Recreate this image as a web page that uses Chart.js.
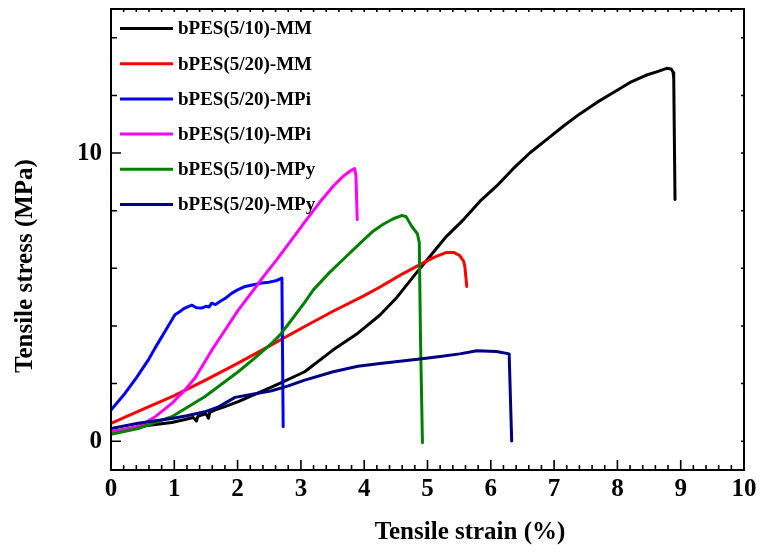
<!DOCTYPE html>
<html>
<head>
<meta charset="utf-8">
<script src="https://cdn.jsdelivr.net/npm/chart.js@4.4.1/dist/chart.umd.min.js"></script>
<style>
html,body{margin:0;padding:0;background:#fff;}
#wrap{width:761px;height:557px;}
</style>
</head>
<body>
<div id="wrap"><canvas id="c" width="761" height="557"></canvas></div>
<script>
// ---- data (strain %, stress MPa) ----
const seriesLabels = ['bPES(5/10)-MM','bPES(5/20)-MM','bPES(5/20)-MPi','bPES(5/10)-MPi','bPES(5/10)-MPy','bPES(5/20)-MPy'];
const seriesColors = ['#000000','#ff0000','#0000ff','#ff00ff','#008000','#000080'];

const mm510Strain = [0,0.2,0.43,0.7,0.96,1.17,1.3,1.35,1.37,1.42,1.5,1.54,1.56,1.64,1.8,2.01,2.3,2.64,3.06,3.51,3.9,4.25,4.5,4.78,5.04,5.3,5.57,5.83,6.09,6.35,6.62,6.9,7.15,7.4,7.67,7.95,8.2,8.45,8.62,8.78,8.85,8.88,8.89,8.91];
const mm510Stress = [0.33,0.4,0.5,0.58,0.65,0.75,0.82,0.7,0.85,0.9,0.95,0.8,1.0,1.08,1.2,1.37,1.65,1.98,2.41,3.17,3.75,4.38,4.95,5.72,6.42,7.11,7.69,8.33,8.85,9.45,10.01,10.5,10.94,11.35,11.75,12.12,12.45,12.7,12.82,12.94,12.92,12.8,12.6,8.39];

const mm520Strain = [0,0.5,1.0,1.5,2.0,2.5,3.06,3.5,4.0,4.25,4.6,4.88,5.1,5.3,5.42,5.51,5.57,5.59,5.62];
const mm520Stress = [0.62,1.1,1.58,2.13,2.7,3.3,3.98,4.5,5.05,5.35,5.8,6.13,6.38,6.55,6.55,6.44,6.25,6.07,5.37];

const mpi520Strain = [0,0.2,0.4,0.59,0.695,0.85,1.01,1.09,1.15,1.22,1.28,1.35,1.43,1.5,1.55,1.59,1.65,1.72,1.8,1.91,2.0,2.12,2.25,2.38,2.5,2.62,2.7,2.71,2.72];
const mpi520Stress = [1.08,1.6,2.2,2.82,3.23,3.8,4.39,4.5,4.6,4.67,4.72,4.63,4.62,4.68,4.66,4.79,4.74,4.85,4.95,5.14,5.25,5.37,5.43,5.49,5.52,5.58,5.66,3.0,0.5];

const mpi510Strain = [0,0.2,0.43,0.7,0.96,1.17,1.33,1.59,1.8,2.01,2.27,2.41,2.62,2.72,3.09,3.3,3.51,3.67,3.78,3.85,3.87,3.89];
const mpi510Stress = [0.33,0.4,0.5,0.85,1.31,1.78,2.2,3.15,3.85,4.55,5.3,5.72,6.3,6.6,7.69,8.3,8.85,9.2,9.38,9.46,9.2,7.69];

const mpy510Strain = [0,0.43,0.96,1.48,2.01,2.27,2.54,2.67,2.8,3.06,3.2,3.45,3.72,3.95,4.14,4.3,4.46,4.59,4.66,4.75,4.84,4.87,4.89,4.92];
const mpy510Stress = [0.24,0.44,0.85,1.54,2.41,2.88,3.4,3.69,4.06,4.82,5.26,5.85,6.42,6.9,7.29,7.53,7.72,7.83,7.8,7.46,7.2,6.9,3.5,-0.05];

const mpy520Strain = [0,0.43,0.96,1.2,1.48,1.7,1.96,2.17,2.54,2.8,3.06,3.51,3.9,4.25,4.88,5.2,5.51,5.78,6.09,6.29,6.31,6.33];
const mpy520Stress = [0.44,0.62,0.79,0.88,1.02,1.19,1.52,1.6,1.75,1.92,2.12,2.41,2.6,2.7,2.85,2.94,3.03,3.14,3.11,3.03,1.5,0.01];

const strainSets = [mm510Strain, mm520Strain, mpi520Strain, mpi510Strain, mpy510Strain, mpy520Strain];
const stressSets = [mm510Stress, mm520Stress, mpi520Stress, mpi510Stress, mpy510Stress, mpy520Stress];

// ticks
const xMajorTicks = [0,1,2,3,4,5,6,7,8,9,10];
const xMinorStep = 0.2;
const yMajorTicks = [0,10];
const yMinorTicks = [2,4,6,8,12,14];

const xTitle = 'Tensile strain (%)';
const yTitle = 'Tensile stress (MPa)';

const FONT = 'Liberation Serif, Times New Roman, serif';

const datasets = seriesLabels.map((lab, i) => ({
  label: lab,
  data: strainSets[i].map((x, k) => ({x: x, y: stressSets[i][k]})),
  borderColor: seriesColors[i],
  backgroundColor: seriesColors[i],
  borderWidth: 3,
  pointRadius: 0,
  showLine: true,
  tension: 0,
  borderJoinStyle: 'round',
  borderCapStyle: 'round',
  order: seriesLabels.length - i
}));

const framePlugin = {
  id: 'framePlugin',
  afterDraw(chart) {
    const {ctx, chartArea: a, scales} = chart;
    const xs = scales.x, ys = scales.y;
    ctx.save();
    ctx.strokeStyle = '#000';
    ctx.lineWidth = 2;
    ctx.strokeRect(a.left, a.top, a.right - a.left, a.bottom - a.top);
    ctx.lineWidth = 1.6;
    ctx.beginPath();
    const n = Math.round((xs.max - xs.min) / xMinorStep);
    for (let k = 0; k <= n; k++) {
      const v = xs.min + k * xMinorStep;
      const px = xs.getPixelForValue(v);
      const major = xMajorTicks.some(m => Math.abs(m - v) < 1e-6);
      const len = major ? 10 : 5;
      ctx.moveTo(px, a.bottom); ctx.lineTo(px, a.bottom - len);
      ctx.moveTo(px, a.top); ctx.lineTo(px, a.top + 3);
    }
    yMajorTicks.concat(yMinorTicks).forEach(v => {
      const py = ys.getPixelForValue(v);
      const major = yMajorTicks.includes(v);
      const len = major ? 10 : 6;
      ctx.moveTo(a.left, py); ctx.lineTo(a.left + len, py);
      ctx.moveTo(a.right, py); ctx.lineTo(a.right - 3, py);
    });
    ctx.stroke();

    ctx.fillStyle = '#000';
    ctx.font = 'bold 25px ' + FONT;
    ctx.textAlign = 'center';
    ctx.textBaseline = 'middle';
    ctx.fillText(xTitle, 470, 533);
    ctx.save();
    ctx.translate(26, 266);
    ctx.rotate(-Math.PI / 2);
    ctx.fillText(yTitle, 0, 0);
    ctx.restore();

    ctx.font = 'bold 19px ' + FONT;
    ctx.textAlign = 'left';
    chart.data.datasets.forEach((ds, i) => {
      const y = 28.5 + i * 35.2;
      ctx.strokeStyle = ds.borderColor;
      ctx.lineWidth = 3;
      ctx.beginPath();
      ctx.moveTo(120, y); ctx.lineTo(173, y);
      ctx.stroke();
      ctx.fillStyle = '#000';
      ctx.fillText(ds.label, 178, y + 1);
    });
    ctx.restore();
  }
};

new Chart(document.getElementById('c'), {
  type: 'scatter',
  data: {datasets},
  options: {
    responsive: false,
    animation: false,
    devicePixelRatio: 1,
    layout: {padding: {top: 9, right: 17, left: 0, bottom: 0}},
    plugins: {legend: {display: false}, tooltip: {enabled: false}},
    scales: {
      x: {
        type: 'linear', min: 0, max: 10,
        grid: {display: false, drawTicks: false},
        border: {display: false},
        afterBuildTicks: s => { s.ticks = xMajorTicks.map(v => ({value: v})); },
        afterFit: s => { s.height = 87; s.paddingLeft = 0; s.paddingRight = 0; },
        ticks: {
          padding: 5, color: '#000', maxRotation: 0, autoSkip: false,
          font: {family: FONT, size: 25, weight: 'bold'},
          callback: v => String(v)
        }
      },
      y: {
        type: 'linear', min: -1, max: 15,
        grid: {display: false, drawTicks: false},
        border: {display: false},
        afterBuildTicks: s => { s.ticks = yMajorTicks.map(v => ({value: v})); },
        afterFit: s => { s.width = 111; s.paddingTop = 0; s.paddingBottom = 0; },
        ticks: {
          padding: 9, color: '#000', autoSkip: false,
          font: {family: FONT, size: 25, weight: 'bold'},
          callback: v => String(v)
        }
      }
    }
  },
  plugins: [framePlugin]
});
</script>
</body>
</html>
